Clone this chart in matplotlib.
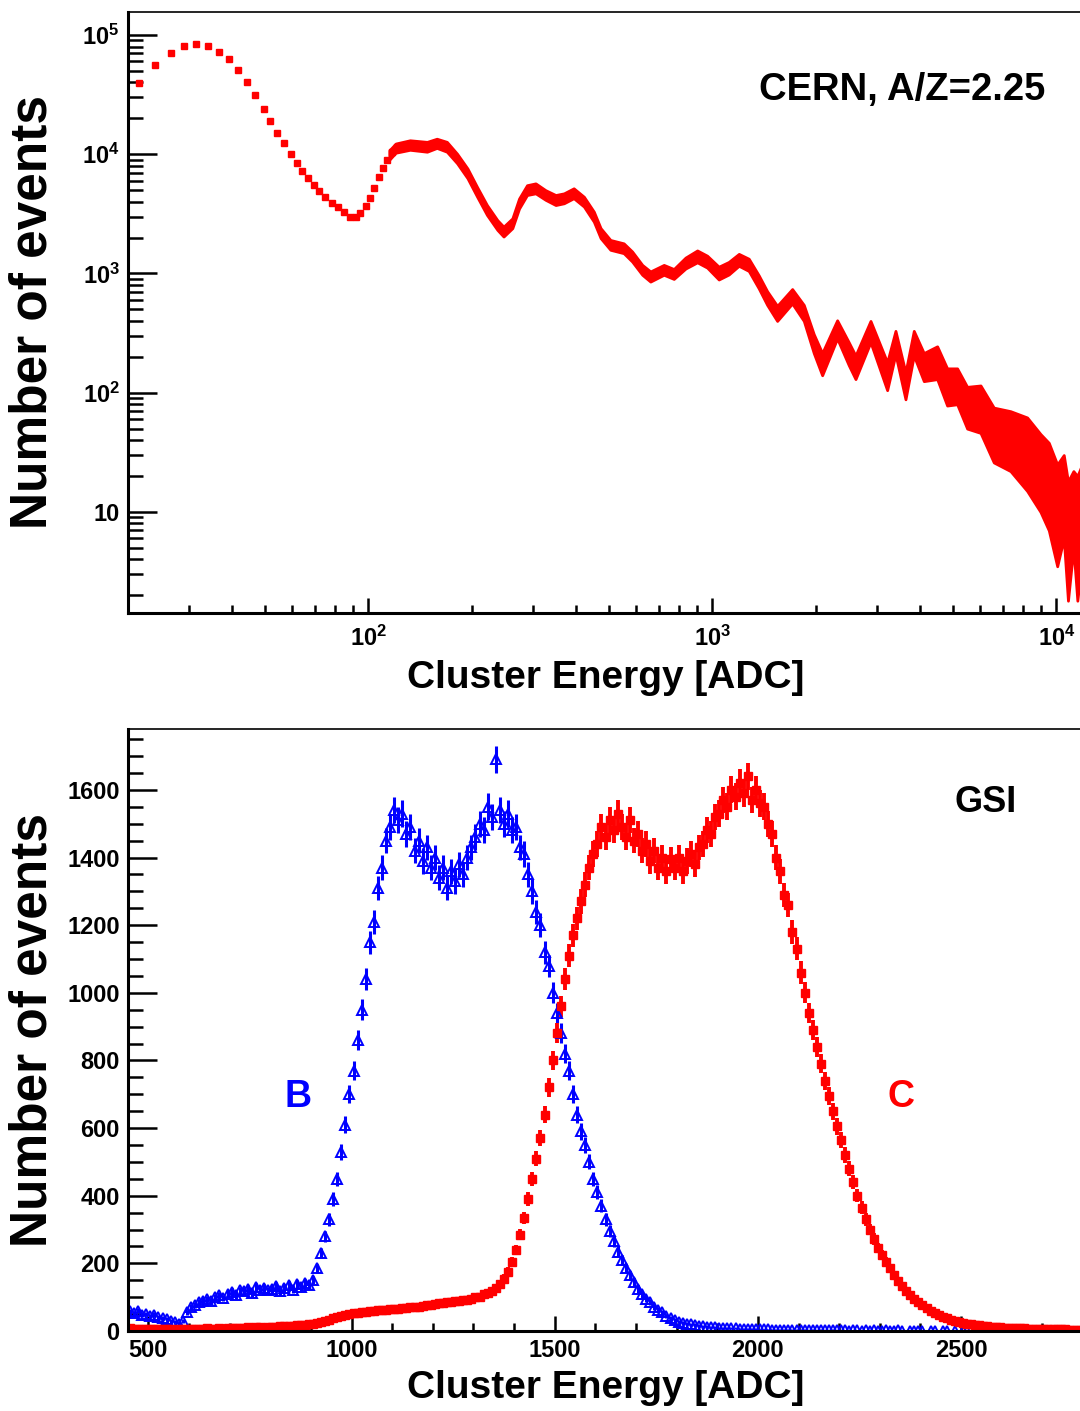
import numpy as np
import matplotlib
matplotlib.use('Agg')
import matplotlib.pyplot as plt
from matplotlib.ticker import FixedLocator, MultipleLocator, LogLocator, FuncFormatter, NullFormatter

plt.rcParams['font.family'] = ['Liberation Sans', 'DejaVu Sans']
plt.rcParams['font.weight'] = 'bold'
plt.rcParams['mathtext.fontset'] = 'custom'
plt.rcParams['mathtext.rm'] = 'Liberation Sans:bold'
plt.rcParams['mathtext.bf'] = 'Liberation Sans:bold'
plt.rcParams['mathtext.default'] = 'rm'

##### CERN, A/Z=2.25 : low energy part, separate bins
cern_E_low = [21.5, 23.9, 26.6, 29.0, 31.6, 34.1, 36.7, 39.3, 41.7, 44.4,
              46.9, 49.6, 51.9, 54.3, 56.7, 59.6, 61.8, 64.2, 66.6, 69.3,
              72.0, 75.0, 78.4, 81.4, 84.8, 88.2, 91.7, 94.8, 98.7, 101.3,
              104.1, 107.1, 110.3, 113.3, 117.2, 121.2]
cern_N_low = [39400, 56100, 70200, 80900, 84100, 80900, 72400, 62600, 50900, 40600,
              31400, 23900, 19100, 15000, 12400, 10100, 8400, 7300, 6300, 5500,
              4950, 4400, 3900, 3600, 3250, 3000, 3000, 3200, 3700, 4300,
              5200, 6500, 7600, 8950, 10500, 11600]

##### CERN : dense part, lower / upper edge of the band of points
cern_E_band = [115, 120, 132, 148, 158, 169, 181, 194, 207, 221,
               237, 247, 262, 274, 289, 306, 327, 350, 370, 395,
               423, 452, 473, 505, 552, 584, 625, 660, 722, 772,
               835, 903, 965, 1043, 1115, 1193, 1275, 1363, 1442, 1542,
               1705, 1843, 1970, 2084, 2304, 2490, 2605, 2880, 3220, 3404,
               3640, 3848, 4115, 4500, 4810, 5143, 5500, 6015, 6573, 7350,
               8217, 8985, 9500, 10050, 10500, 10800, 11200, 11500, 11800, 12100]
cern_lo = [9000, 10300, 10900, 10500, 11300, 10500, 8400, 6300, 4400, 3100,
           2320, 2040, 2400, 3500, 4550, 4700, 4150, 3750, 3880, 4280,
           3640, 2720, 1980, 1580, 1480, 1260, 975, 855, 975, 900,
           1100, 1240, 1120, 890, 980, 1160, 1050, 750, 545, 400,
           560, 400, 215, 140, 285, 170, 130, 265, 105, 210,
           88, 205, 125, 130, 78, 80, 50, 46, 26, 22,
           15, 10, 7, 3.5, 6, 1.8, 5, 1.8, 3.5, 3]
cern_hi = [10800, 12300, 13100, 12700, 13500, 12700, 10100, 7600, 5300, 3750,
           2800, 2470, 2900, 4250, 5500, 5700, 5000, 4550, 4700, 5180,
           4400, 3300, 2400, 1910, 1790, 1530, 1180, 1040, 1180, 1090,
           1360, 1560, 1410, 1140, 1250, 1460, 1330, 965, 710, 535,
           740, 545, 310, 215, 405, 265, 205, 400, 180, 330,
           148, 330, 215, 245, 160, 160, 112, 115, 75, 70,
           62, 45, 38, 25, 30, 18, 22, 20, 24, 20]

##### GSI : bins of 10 ADC from 450 to 2800
gsi_E = np.arange(455, 2800, 10)
gsi_B = [58, 52, 60, 48, 50,
         45, 48, 40, 38, 36, 30, 28, 22, 30, 55,
         70, 78, 85, 90, 95, 88, 100, 105, 98, 110,
         115, 105, 120, 118, 125, 112, 130, 122, 128, 120,
         125, 132, 118, 128, 135, 122, 138, 130, 142, 135,
         150, 185, 230, 280, 330, 390, 450, 530, 610, 700,
         770, 860, 950, 1040, 1150, 1210, 1310, 1370, 1450, 1490,
         1540, 1510, 1530, 1470, 1490, 1420, 1450, 1390, 1430, 1370,
         1400, 1340, 1370, 1310, 1360, 1330, 1380, 1350, 1400, 1430,
         1460, 1500, 1480, 1550, 1520, 1690, 1540, 1500, 1530, 1480,
         1490, 1430, 1410, 1350, 1300, 1240, 1200, 1120, 1080, 1000,
         940, 880, 820, 770, 700, 640, 590, 550, 500, 450,
         410, 370, 330, 295, 265, 235, 210, 185, 165, 145,
         125, 108, 95, 85, 72, 62, 55, 45, 38, 33,
         28, 25, 22, 20, 18, 16, 14, 13, 12, 11,
         10, 9, 9, 8, 8, 7, 7, 6, 6, 6,
         5, 5, 5, 4, 4, 4, 4, 3, 3, 4,
         3, 3, 2, 3, 2, 3, 2, 2, 3, 2,
         2, 2, 1, 2, 2, 1, 2, 1, 2, 1,
         1, 2, 1, 1, 2, 1, 0, 1, 1, 1,
         1, 0, 1, 1, 0, 1, 1, 0, 1, 0,
         1, 1, 0, 1, 1, 0, 1, 0, 1, 1,
         0, 1, 1, 0, 1, 0, 0, 1, 0, 0,
         1, 0, 1, 0, 0, 0, 0, 0, 0, 0]
gsi_C = [8, 6, 7, 5, 6,
         6, 5, 7, 6, 5, 6, 4, 5, 6, 5,
         6, 7, 5, 6, 8, 7, 6, 8, 7, 9,
         9, 8, 10, 9, 11, 10, 12, 11, 10, 12,
         13, 12, 14, 15, 14, 16, 17, 18, 19, 20,
         22, 24, 27, 30, 34, 37, 40, 44, 47, 50,
         52, 54, 56, 57, 58, 60, 61, 62, 63, 64,
         65, 66, 68, 69, 70, 71, 72, 74, 76, 78,
         80, 82, 84, 86, 87, 88, 89, 91, 93, 95,
         100, 102, 108, 112, 118, 128, 140, 155, 175, 205,
         240, 285, 335, 390, 450, 510, 570, 640, 720, 800,
         880, 960, 1040, 1110, 1170, 1220, 1270, 1320, 1370, 1410,
         1440, 1490, 1460, 1510, 1480, 1530, 1490, 1460, 1510, 1450,
         1470, 1420, 1440, 1390, 1420, 1370, 1400, 1360, 1395, 1370,
         1400, 1360, 1390, 1410, 1380, 1430, 1440, 1480, 1470, 1520,
         1530, 1570, 1550, 1600, 1580, 1620, 1590, 1640, 1570, 1600,
         1560, 1550, 1500, 1470, 1400, 1360, 1290, 1260, 1180, 1130,
         1060, 1000, 940, 890, 840, 790, 740, 695, 650, 605,
         565, 520, 480, 440, 400, 365, 330, 300, 272, 245,
         225, 205, 185, 165, 148, 132, 118, 106, 95, 85,
         76, 67, 60, 53, 47, 41, 37, 33, 29, 26,
         24, 22, 20, 18, 17, 15, 14, 13, 12, 11,
         10, 10, 9, 9, 8, 8, 7, 7, 7, 6,
         6, 6, 5, 5, 5, 5, 4, 4, 4, 4]

W, H = 1080, 1411
fig = plt.figure(figsize=(W / 100, H / 100), dpi=100)


def px_axes(l, t, r, b):
    return fig.add_axes([l / W, 1 - b / H, (r - l) / W, (b - t) / H])


def style_axes(ax):
    ax.spines['left'].set_linewidth(2.2)
    ax.spines['bottom'].set_linewidth(2.2)
    ax.spines['top'].set_linewidth(1.2)
    ax.spines['right'].set_linewidth(1.2)
    ax.tick_params(axis='both', which='both', direction='in', width=1.8,
                   labelsize=17, top=False, right=False)
    ax.tick_params(axis='y', which='major', length=21, pad=6)
    ax.tick_params(axis='y', which='minor', length=10.5)
    ax.tick_params(axis='x', which='major', length=11)
    ax.tick_params(axis='x', which='minor', length=6)


def pow_label(v, pos):
    k = int(round(np.log10(v)))
    if k == 1:
        return '10'
    return r'$10^{%d}$' % k


######################### top: CERN #########################
ax1 = px_axes(128, 12, 1083.7, 613)
ax1.set_xscale('log')
ax1.set_yscale('log')
ax1.set_xlim(20, 12000)
ax1.set_ylim(1.42, 1.56e5)
ax1.fill_between(cern_E_band, cern_lo, cern_hi, color='red', lw=2, edgecolor='red')
ax1.plot(cern_E_low, cern_N_low, 's', ms=4, color='red', mec='red')
style_axes(ax1)
ax1.tick_params(axis='x', which='major', pad=9)
ax1.xaxis.set_major_locator(FixedLocator([1e2, 1e3, 1e4]))
ax1.xaxis.set_minor_locator(LogLocator(base=10, subs=np.arange(2, 10)))
ax1.xaxis.set_major_formatter(FuncFormatter(pow_label))
ax1.xaxis.set_minor_formatter(NullFormatter())
ax1.yaxis.set_major_locator(FixedLocator([10, 1e2, 1e3, 1e4, 1e5]))
ax1.yaxis.set_minor_locator(LogLocator(base=10, subs=np.arange(2, 10)))
ax1.yaxis.set_major_formatter(FuncFormatter(pow_label))
ax1.yaxis.set_minor_formatter(NullFormatter())

######################### bottom: GSI #########################
ax2 = px_axes(128, 729, 1083, 1331)
ax2.set_xlim(450, 2800)
ax2.set_ylim(0, 1780)
B = np.array(gsi_B, dtype=float)
C = np.array(gsi_C, dtype=float)
mb = B > 0
mc = C > 0
ax2.errorbar(gsi_E[mb], B[mb], yerr=np.sqrt(B[mb]), fmt='^', ms=7, mfc='none',
             mec='blue', mew=1.4, ecolor='blue', elinewidth=2.2, capsize=0)
ax2.errorbar(gsi_E[mc], C[mc], yerr=np.sqrt(C[mc]), fmt='s', ms=5.5, color='red',
             mec='red', ecolor='red', elinewidth=2.8, capsize=0)
style_axes(ax2)
ax2.tick_params(axis='x', which='major', pad=6)
ax2.xaxis.set_major_locator(MultipleLocator(500))
ax2.xaxis.set_minor_locator(MultipleLocator(100))
ax2.yaxis.set_major_locator(MultipleLocator(200))
ax2.yaxis.set_minor_locator(MultipleLocator(50))

######################### texts #########################
def ftext(x, y, s, **kw):
    fig.text(x / W, 1 - y / H, s, ha='center', va='center', fontweight='bold', **kw)


ftext(33, 312, 'Number of events', fontsize=37, rotation=90)
ftext(33, 1030, 'Number of events', fontsize=37, rotation=90)
ftext(606, 678, 'Cluster Energy [ADC]', fontsize=28)
ftext(606, 1388, 'Cluster Energy [ADC]', fontsize=28)
ftext(902, 90, 'CERN, A/Z=2.25', fontsize=27.5)
ftext(986, 803, 'GSI', fontsize=26)
ftext(298, 1097, 'B', fontsize=27, color='blue')
ftext(901, 1097, 'C', fontsize=27, color='red')

fig.savefig('out.png', dpi=100)
